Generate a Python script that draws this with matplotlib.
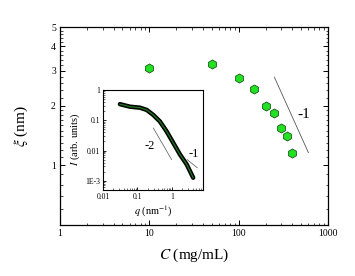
import matplotlib.pyplot as plt
from matplotlib.ticker import LogLocator, NullFormatter, FixedLocator, FixedFormatter

plt.rcParams['font.family'] = ['Liberation Serif', 'DejaVu Serif']
plt.rcParams['mathtext.fontset'] = 'stix'

# main data: correlation length vs concentration
conc = [10, 50, 100, 150, 200, 250, 300, 350, 400]
xi = [3.1, 3.24, 2.76, 2.42, 2.0, 1.83, 1.54, 1.41, 1.16]
xi_err = [0.05, 0.05, 0.05, 0.06, 0.05, 0.05, 0.04, 0.04, 0.04]
guide_x = [251, 603]
guide_y = [2.79, 1.16]

# inset: scattering intensity vs q
q = [0.031, 0.061, 0.118, 0.185, 0.287, 0.449, 0.70, 1.09, 1.71, 2.67, 4.14]
inten = [0.34, 0.28, 0.26, 0.22, 0.15, 0.091, 0.043, 0.018, 0.0074, 0.0035, 0.00126]
g2_x = [0.29, 0.98]
g2_y = [0.055, 0.005]
g1_x = [2.77, 5.4]
g1_y = [0.005, 0.0027]

fig = plt.figure(figsize=(3.55, 2.76), dpi=100)
ax = fig.add_axes([0.169, 0.185, 0.755, 0.717])

ax.errorbar(conc, xi, yerr=xi_err, fmt='h', ms=6.5, mfc='#22e022', mec='#1a5a1a',
            mew=0.6, ecolor='#1a5a1a', elinewidth=0.6, capsize=0)
ax.plot(guide_x, guide_y, color='#555555', lw=0.6)
ax.text(530, 1.8, '-1', fontsize=11, ha='center', va='center')

ax.set_xscale('log')
ax.set_yscale('log')
ax.set_xlim(1, 1000)
ax.set_ylim(0.5, 5)
ax.set_xticks([1, 10, 100, 1000])
ax.set_xticklabels(['1', '10', '100', '1000'])
ax.yaxis.set_major_locator(FixedLocator([1, 2, 3, 4, 5]))
ax.yaxis.set_major_formatter(FixedFormatter(['1', '2', '3', '4', '5']))
ax.yaxis.set_minor_locator(FixedLocator([0.5, 0.6, 0.7, 0.8, 0.9, 1.1, 1.2, 1.3, 1.4, 1.5, 1.6, 1.7, 1.8, 1.9,
                                         2.2, 2.4, 2.6, 2.8, 3.2, 3.4, 3.6, 3.8, 4.2, 4.4, 4.6, 4.8]))
ax.yaxis.set_minor_formatter(NullFormatter())
ax.xaxis.set_minor_locator(LogLocator(base=10, subs=range(2, 10)))
ax.xaxis.set_minor_formatter(NullFormatter())
ax.tick_params(which='both', direction='in', top=True, right=True, labelsize=7, pad=3)
ax.tick_params(which='major', length=3.5, width=0.7)
ax.tick_params(which='minor', length=1.8, width=0.5)
for s in ax.spines.values():
    s.set_linewidth(0.9)
ax.set_xlabel(r'$C$ (mg/mL)', fontsize=11, labelpad=6)
ax.set_ylabel(r'$\xi$ (nm)', fontsize=11, labelpad=15)

# inset
ins = fig.add_axes([0.290, 0.312, 0.282, 0.362])
ins.plot(q, inten, color='black', lw=3.2, solid_capstyle='round')
ins.plot(q, inten, color='#1e7a1e', lw=0.9)
ins.plot(g2_x, g2_y, color='#555555', lw=0.5)
ins.plot(g1_x, g1_y, color='#555555', lw=0.5)
ins.text(0.23, 0.0138, '-2', fontsize=9, ha='center', va='center')
ins.text(4.4, 0.0079, '-1', fontsize=9, ha='center', va='center')
ins.set_xscale('log')
ins.set_yscale('log')
ins.set_xlim(0.01, 8)
ins.set_ylim(5e-4, 1)
ins.set_xticks([0.01, 0.1, 1])
ins.set_xticklabels(['0.01', '0.1', '1'])
ins.set_yticks([1e-3, 0.01, 0.1, 1])
ins.set_yticklabels(['1E-3', '0.01', '0.1', '1'])
ins.xaxis.set_minor_locator(LogLocator(base=10, subs=range(2, 10)))
ins.yaxis.set_minor_locator(LogLocator(base=10, subs=range(2, 10)))
ins.xaxis.set_minor_formatter(NullFormatter())
ins.yaxis.set_minor_formatter(NullFormatter())
ins.tick_params(which='both', direction='in', labelsize=5.5, pad=2)
ins.tick_params(which='major', length=2.5, width=0.6)
ins.tick_params(which='minor', length=1.3, width=0.4)
for s in ins.spines.values():
    s.set_linewidth(0.8)
ins.set_xlabel(r'$q$ (nm$^{-1}$)', fontsize=7.5, labelpad=2)
ins.set_ylabel(r'$I$ (arb. units)', fontsize=7.5, labelpad=2)

fig.savefig('out.png', dpi=100)
